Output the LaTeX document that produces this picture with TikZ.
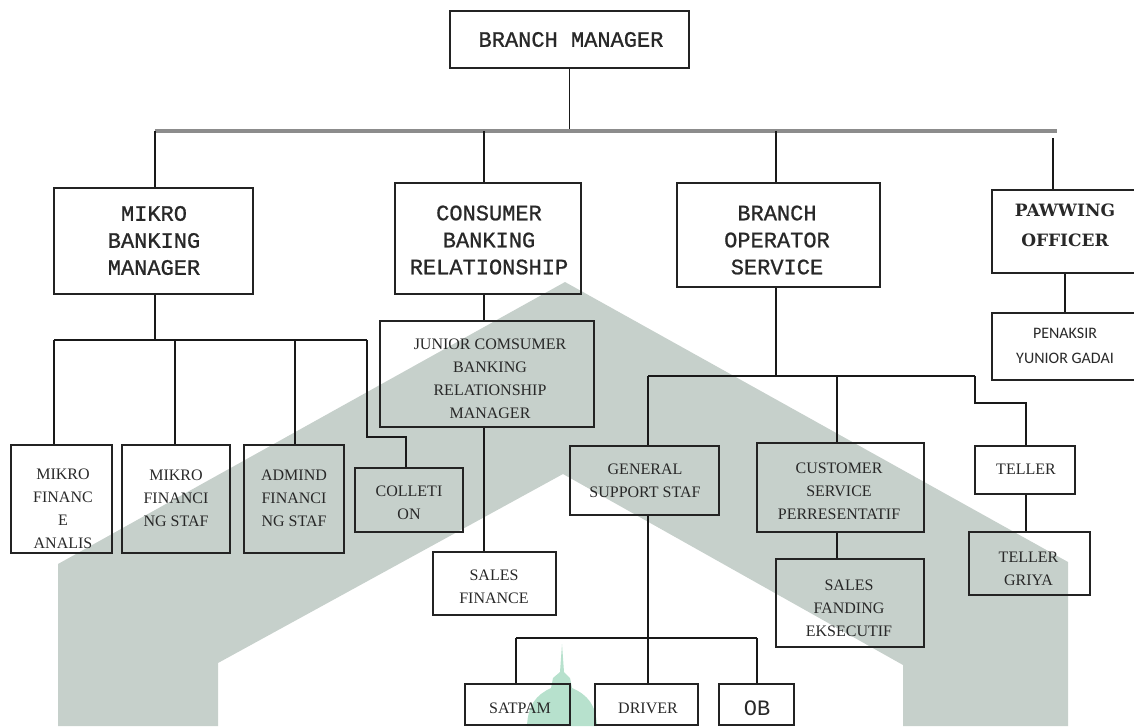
\documentclass[tikz,border=0pt]{standalone}
\usepackage{fontspec}
\setmainfont{Liberation Serif}
\newfontfamily\monof{Liberation Mono}
\newfontfamily\monomed[FakeBold=0.9]{Liberation Mono}
\newfontfamily\slabf{DejaVu Serif}
\newfontfamily\sansf{Carlito}
\definecolor{wmc}{RGB}{198,208,203}
\definecolor{mintc}{RGB}{183,225,205}
\definecolor{boxc}{RGB}{35,35,35}
\definecolor{linec}{RGB}{25,25,25}
\definecolor{busc}{RGB}{140,140,140}
\definecolor{txtc}{RGB}{40,40,40}
\tikzset{
  bx/.style={draw=boxc, line width=1.8pt, inner sep=0pt},
  ln/.style={draw=linec, line width=1.6pt},
  busline/.style={draw=busc, line width=3.5pt},
  tx/.style={inner sep=0pt, align=center, text=txtc, font=\fontsize{16}{23}\selectfont},
  mt/.style={inner sep=0pt, align=center, text=txtc, font=\monomed\fontsize{22}{27}\selectfont},
  ot/.style={inner sep=0pt, align=center, text=txtc, font=\monof\fontsize{22}{27}\selectfont},
  st/.style={inner sep=0pt, align=center, text=txtc, font=\slabf\bfseries\fontsize{17}{30}\selectfont},
  sa/.style={inner sep=0pt, align=center, text=txtc, font=\sansf\fontsize{16}{25}\selectfont},
}
\begin{document}
\begin{tikzpicture}[x=1pt,y=-1pt]
\useasboundingbox (0,0) rectangle (1134,726);
\clip (0,0) rectangle (1134,726);
% watermark
\fill[wmc] (565,282) -- (58,564) -- (58,726) -- (218,726) -- (218,663) -- (563,474) -- (903,665) -- (903,726) -- (1068,726) -- (1068,562) -- cycle;
\fill[mintc] (562,644) -- (560,672) -- (553,678) -- (551,688) .. controls (536,695) and (528,705) .. (527,726) -- (597,726) .. controls (596,705) and (588,695) .. (572,688) -- (570,678) -- (564,672) -- cycle;

% boxes
\node[bx, minimum width=239pt, minimum height=57pt] (bm) at (569.5,39.5) {};
\node[bx, minimum width=199pt, minimum height=106pt] (mbm) at (153.5,241) {};
\node[bx, minimum width=186pt, minimum height=111pt] (cbr) at (488,238.5) {};
\node[bx, minimum width=203pt, minimum height=104pt] (bos) at (778.5,235) {};
\node[bx, minimum width=146pt, minimum height=83pt] (pwo) at (1065,231.5) {};
\node[bx, minimum width=146pt, minimum height=67pt] (pen) at (1065,346.5) {};
\node[bx, minimum width=101pt, minimum height=108pt] (mfa) at (61.5,499) {};
\node[bx, minimum width=108pt, minimum height=108pt] (mfs) at (176,499) {};
\node[bx, minimum width=100pt, minimum height=108pt] (afs) at (294,499) {};
\node[bx, minimum width=108pt, minimum height=64pt] (col) at (409,500) {};
\node[bx, minimum width=214pt, minimum height=106pt] (jcb) at (487,374) {};
\node[bx, minimum width=123pt, minimum height=63pt] (sf) at (494.5,583.5) {};
\node[bx, minimum width=149pt, minimum height=69pt] (gss) at (644.5,480.5) {};
\node[bx, minimum width=167pt, minimum height=89pt] (csp) at (840.5,487.5) {};
\node[bx, minimum width=148pt, minimum height=88pt] (sfe) at (850,603) {};
\node[bx, minimum width=100pt, minimum height=48pt] (tel) at (1025,470) {};
\node[bx, minimum width=121pt, minimum height=63pt] (tg) at (1029.5,563.5) {};
\node[bx, minimum width=105pt, minimum height=41pt] (sat) at (517.5,704.5) {};
\node[bx, minimum width=103pt, minimum height=41pt] (drv) at (646.5,704.5) {};
\node[bx, minimum width=75pt, minimum height=41pt] (ob) at (756.5,704.5) {};

% texts
\node[mt] (bm-t) at (571,39.5) {BRANCH MANAGER};
\node[mt] (mbm-t) at (154,240.5) {MIKRO\\BANKING\\MANAGER};
\node[mt] (cbr-t) at (489,240) {CONSUMER\\BANKING\\RELATIONSHIP};
\node[mt] (bos-t) at (777,240) {BRANCH\\OPERATOR\\SERVICE};
\node[st] (pwo-t) at (1065,225) {PAWWING\\OFFICER};
\node[sa] (pen-t) at (1065,346) {PENAKSIR\\YUNIOR GADAI};
\node[tx] (mfa-t) at (63,509) {MIKRO\\FINANC\\E\\ANALIS};
\node[tx] (mfs-t) at (176,498) {MIKRO\\FINANCI\\NG STAF};
\node[tx] (afs-t) at (294,498) {ADMIND\\FINANCI\\NG STAF};
\node[tx] (col-t) at (409,503) {COLLETI\\ON};
\node[tx] (jcb-t) at (490,379) {JUNIOR COMSUMER\\BANKING\\RELATIONSHIP\\MANAGER};
\node[tx] (sf-t) at (494,587) {SALES\\FINANCE};
\node[tx] (gss-t) at (645,481) {GENERAL\\SUPPORT STAF};
\node[tx] (csp-t) at (839,491) {CUSTOMER\\SERVICE\\PERRESENTATIF};
\node[tx] (sfe-t) at (849,608) {SALES\\FANDING\\EKSECUTIF};
\node[tx] (tel-t) at (1026,469) {TELLER};
\node[tx] (tg-t) at (1028.5,569) {TELLER\\GRIYA};
\node[tx] (sat-t) at (520,708) {SATPAM};
\node[tx] (drv-t) at (648,708) {DRIVER};
\node[ot] (ob-t) at (757,708) {OB};

% junction coordinates
\coordinate (busL) at (155,131);
\coordinate (busR) at (1057,131);
\coordinate (c2) at (484,131);
\coordinate (c3) at (776,131);
\coordinate (c4) at (1053,138);
\coordinate (mL) at (54,340);
\coordinate (mA) at (175,340);
\coordinate (mB) at (295,340);
\coordinate (mR) at (367,340);
\coordinate (mS) at (406,437);
\coordinate (bL) at (648,376);
\coordinate (bM) at (837,376);
\coordinate (bR) at (975,376);
\coordinate (bS) at (1026,403);
\coordinate (g0) at (648,638);
\coordinate (gL) at (516,638);
\coordinate (gR) at (757,638);

% connectors
\draw[ln] (bm.south) -- (bm.south |- busL);
\draw[busline] (busL) -- (busR);
\draw[ln] (busL) -- (busL |- mbm.north);
\draw[ln] (c2) -- (c2 |- cbr.north);
\draw[ln] (c3) -- (c3 |- bos.north);
\draw[ln] (c4) -- (c4 |- pwo.north);
\draw[ln] (pwo.south) -- (pen.north);

\draw[ln] (busL |- mbm.south) -- (busL |- mL);
\draw[ln] (mL) -- (mR);
\draw[ln] (mL) -- (mL |- mfa.north);
\draw[ln] (mA) -- (mA |- mfs.north);
\draw[ln] (mB) -- (mB |- afs.north);
\draw[ln] (mR) |- (mS) -- (mS |- col.north);

\draw[ln] (c2 |- cbr.south) -- (c2 |- jcb.north);
\draw[ln] (c2 |- jcb.south) -- (c2 |- sf.north);

\draw[ln] (c3 |- bos.south) -- (c3 |- bL);
\draw[ln] (bL) -- (bR);
\draw[ln] (bL) -- (bL |- gss.north);
\draw[ln] (bM) -- (bM |- csp.north);
\draw[ln] (bR) |- (bS) -- (bS |- tel.north);
\draw[ln] (bM |- csp.south) -- (bM |- sfe.north);
\draw[ln] (bS |- tel.south) -- (bS |- tg.north);

\draw[ln] (bL |- gss.south) -- (g0);
\draw[ln] (gL) -- (gR);
\draw[ln] (gL) -- (gL |- sat.north);
\draw[ln] (g0) -- (g0 |- drv.north);
\draw[ln] (gR) -- (gR |- ob.north);
\end{tikzpicture}
\end{document}
